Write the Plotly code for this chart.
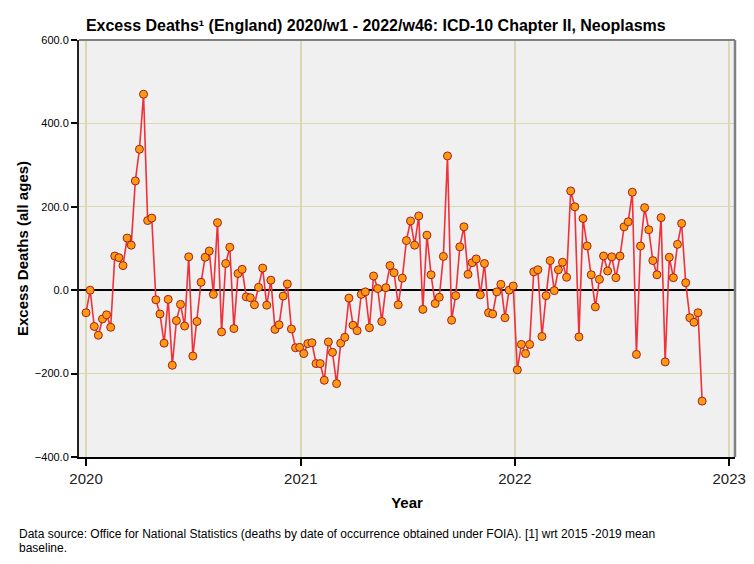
import pandas as pd
import plotly.graph_objects as go

# weekly excess deaths, neoplasms, England
excess_2020 = [-54, 0, -87, -108, -69, -59, -89, 82, 78, 59,
               125, 108, 262, 338, 470, 167, 173, -23, -57, -127,
               -22, -180, -73, -34, -86, 80, -158, -75, 19, 79,
               94, -10, 162, -100, 64, 103, -92, 40, 50, -16,
               -18, -35, 7, 53, -36, 24, -94, -83, -14, 15,
               -93, -138, -137]
excess_2021 = [-152, -128, -126, -176, -176, -216, -124, -149, -224, -127,
               -113, -19, -84, -97, -10, -4, -90, 34, 4, -75,
               6, 59, 42, -35, 29, 119, 166, 108, 178, -46,
               132, 37, -32, -17, 81, 322, -72, -13, 104, 152,
               38, 66, 75, -11, 64, -54, -57, -4, 14, -66,
               0, 10]
excess_2022 = [-191, -130, -152, -130, 44, 49, -111, -13, 71, -1,
               49, 67, 31, 238, 200, -112, 172, 106, 37, -40,
               26, 82, 46, 80, 30, 82, 152, 164, 235, -154,
               106, 198, 145, 71, 37, 174, -172, 79, 30, 110,
               160, 18, -66, -77, -54, -266]

excess = excess_2020 + excess_2021 + excess_2022
# one point per week starting at week 1 of 2020
week_dates = pd.date_range("2020-01-01", periods=len(excess), freq="7D")

y_ticks = [-400, -200, 0, 200, 400, 600]
x_ticks = ["2020-01-01", "2021-01-01", "2022-01-01", "2023-01-01"]
x_labels = ["2020", "2021", "2022", "2023"]

footnote = ["Data source: Office for National Statistics (deaths by date of occurrence obtained under FOIA). [1] wrt 2015 -2019 mean",
            "baseline."]

font = "Arial, Liberation Sans, sans-serif"
grid_col = "#dcd8b4"

fig = go.Figure()
fig.add_trace(go.Scatter(x=week_dates, y=excess, mode="lines+markers",
                         line=dict(color="#f0303a", width=1.6),
                         marker=dict(size=8, color="#ff9a10",
                                     line=dict(color="#a02020", width=1)),
                         showlegend=False))

# page body has an 8px margin, so the figure is 8px smaller than the window
fig.update_layout(
    width=746, height=556,
    margin=dict(l=71, r=19, t=32, b=107, autoexpand=False),
    paper_bgcolor="white", plot_bgcolor="#f0f0f0",
    font=dict(family=font, color="black"),
    title=dict(text="<b>Excess Deaths¹ (England) 2020/w1 - 2022/w46: ICD-10 Chapter II, Neoplasms</b>",
               x=0.493, xref="container", xanchor="center", y=0.968, yref="container", yanchor="middle",
               font=dict(size=16, color="black")),
    xaxis=dict(range=["2019-12-20", "2023-01-11"], tickvals=x_ticks, ticktext=x_labels,
               ticks="outside", ticklen=7, tickwidth=1.5, tickcolor="black",
               tickfont=dict(size=15, color="#222222"),
               showline=True, linecolor="black", linewidth=2,
               showgrid=True, gridcolor=grid_col, gridwidth=1.5, zeroline=False,
               automargin=False,
               title=dict(text="<b>Year</b>", font=dict(size=15), standoff=11)),
    yaxis=dict(range=[-400, 600], tickvals=y_ticks, tickformat=".1f",
               ticks="outside", ticklen=6, tickwidth=1.5, tickcolor="black",
               tickfont=dict(size=11),
               showline=True, linecolor="#222222", linewidth=2,
               showgrid=True, gridcolor=grid_col, gridwidth=1,
               zeroline=True, zerolinecolor="black", zerolinewidth=1.6,
               automargin=False,
               title=dict(text="<b>Excess Deaths (all ages)</b>", font=dict(size=15), standoff=3)),
)

# grey frame on top and right
fig.add_shape(type="line", xref="paper", yref="paper", x0=0, x1=1, y0=1, y1=1,
              line=dict(color="#808080", width=2))
fig.add_shape(type="line", xref="paper", yref="paper", x0=1, x1=1, y0=0, y1=1,
              line=dict(color="#808080", width=2.5))

# footnote lines, tighter spacing than plotly's <br>
for line_text, ypos in zip(footnote, [-0.185, -0.219]):
    fig.add_annotation(text=line_text, xref="paper", yref="paper", x=-0.093, y=ypos,
                       xanchor="left", yanchor="middle", align="left", showarrow=False,
                       borderpad=0, font=dict(size=12, color="black"))

fig.write_html("out.html")
